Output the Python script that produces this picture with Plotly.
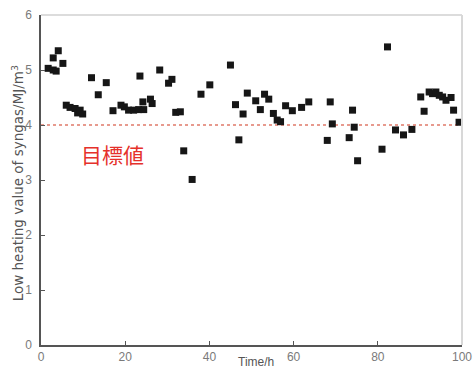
import plotly.graph_objects as go

time_h = [1.7, 2.9, 3.6, 2.9, 4.1, 5.2, 6.0, 6.9, 8.1, 8.7, 9.3, 9.9, 12.0, 13.6, 15.5,
          17.1, 19.0, 19.8, 20.8, 22.0, 23.2, 24.4, 23.5, 24.2, 26.0, 26.4, 28.2, 30.3,
          31.1, 32.0, 33.1, 33.9, 35.9, 38.0, 40.1, 45.0, 46.2, 47.0, 48.0, 49.0, 51.0,
          52.1, 53.1, 54.1, 55.2, 56.1, 56.9, 58.1, 59.7, 61.9, 63.6, 68.7, 68.0, 69.2,
          73.2, 74.0, 74.4, 75.2, 81.0, 82.3, 84.2, 86.1, 88.1, 90.2, 91.0, 92.2, 93.0,
          93.8, 94.6, 95.4, 96.2, 97.4, 98.0, 99.3]
lhv = [5.03, 5.00, 4.98, 5.22, 5.35, 5.12, 4.36, 4.32, 4.30, 4.22, 4.27, 4.20, 4.86, 4.55, 4.77,
       4.26, 4.36, 4.33, 4.27, 4.27, 4.28, 4.28, 4.89, 4.42, 4.47, 4.39, 5.00, 4.76,
       4.83, 4.23, 4.24, 3.53, 3.01, 4.56, 4.73, 5.09, 4.37, 3.73, 4.20, 4.58, 4.44,
       4.28, 4.56, 4.47, 4.21, 4.09, 4.06, 4.35, 4.26, 4.32, 4.42, 4.42, 3.72, 4.02,
       3.77, 4.27, 3.96, 3.35, 3.56, 5.42, 3.91, 3.82, 3.92, 4.51, 4.25, 4.60, 4.57,
       4.60, 4.54, 4.51, 4.45, 4.50, 4.27, 4.05]
target_value = 4.0
x_ticks = [0, 20, 40, 60, 80, 100]
y_ticks = [0, 1, 2, 3, 4, 5, 6]
target_label = "目標値"
x_title = "Time/h"
y_title = "Low heating value of syngas/MJ/m<sup>3</sup>"

fig = go.Figure()
fig.add_trace(go.Scatter(
    x=[0, 100], y=[target_value, target_value], mode="lines",
    line=dict(color="#e07a6a", width=1.6, dash="3px,3px"),
    hoverinfo="skip", showlegend=False))
fig.add_trace(go.Scatter(
    x=time_h, y=lhv, mode="markers",
    marker=dict(symbol="square", size=7, color="#161616"),
    showlegend=False))

tickfont = dict(family="Liberation Sans, Arial", size=12, color="#7a7a7a")
fig.update_xaxes(range=[0, 100], tickvals=x_ticks, ticks="inside", ticklen=4,
                 tickcolor="#555", showline=True, linecolor="#555", linewidth=1.5,
                 showgrid=False, zeroline=False, tickfont=tickfont, automargin=False)
fig.update_yaxes(range=[0, 6], tickvals=y_ticks, ticks="inside", ticklen=4,
                 tickcolor="#555", showline=True, linecolor="#555", linewidth=1.5,
                 showgrid=False, zeroline=False, tickfont=tickfont, ticklabelstandoff=5,
                 automargin=False)

fig.add_shape(type="line", xref="paper", yref="paper", x0=0, x1=1, y0=1, y1=1,
              line=dict(color="#d0d0d0", width=1.5))
fig.add_shape(type="line", xref="paper", yref="paper", x0=1, x1=1, y0=0, y1=1,
              line=dict(color="#d8d8d8", width=2))

fig.add_annotation(x=17, y=3.47, xref="x", yref="y", text=target_label, showarrow=False,
                   font=dict(family="Noto Sans CJK JP", size=21, color="#e5312b"))
fig.add_annotation(x=0.51, y=-0.024, xref="paper", yref="paper", text=x_title,
                   showarrow=False, xanchor="center", yanchor="top",
                   font=dict(family="Liberation Sans, Arial", size=12, color="#555"))
fig.add_annotation(x=-0.0546, y=0.49, xref="paper", yref="paper", text=y_title,
                   showarrow=False, textangle=-90, xanchor="center", yanchor="middle",
                   font=dict(family="DejaVu Sans", size=13.5, color="#555"))

fig.update_layout(width=473, height=369, margin=dict(l=41, r=11, t=15, b=24),
                  plot_bgcolor="white", paper_bgcolor="white")
fig.write_html("out.html", config={"displayModeBar": False},
               post_script="document.body.style.margin='0';document.body.style.overflow='hidden';")
